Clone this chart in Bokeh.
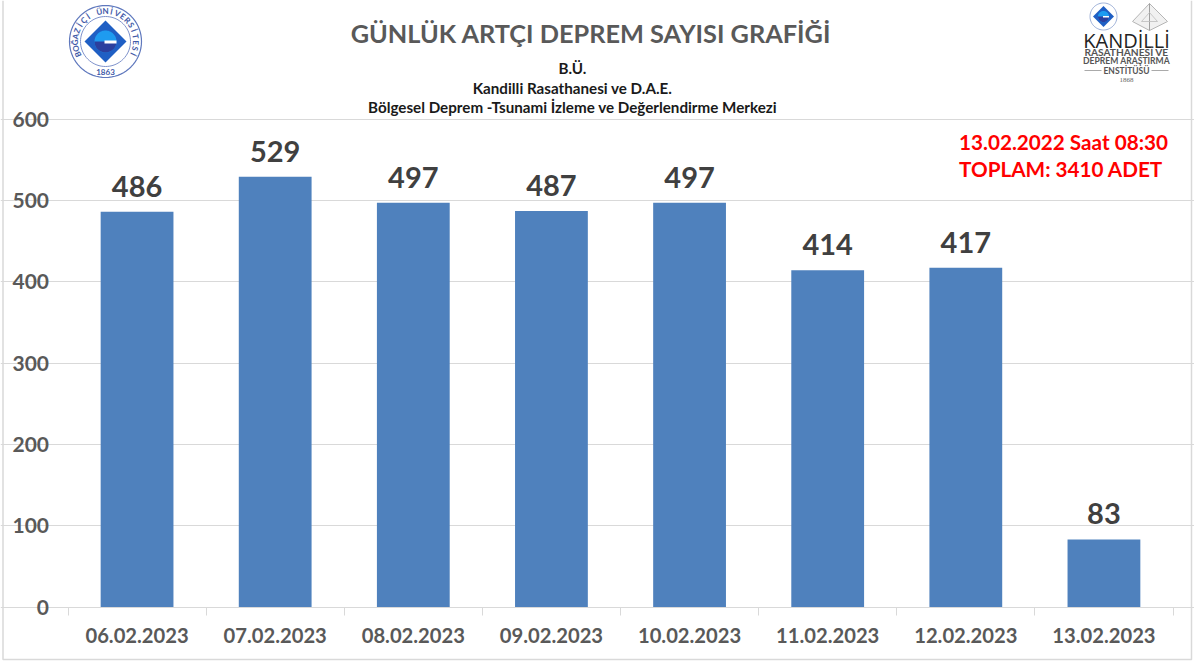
import numpy as np
from bokeh.plotting import figure
from bokeh.models import FixedTicker, Range1d, ColumnDataSource
from bokeh.core.properties import value
from bokeh.embed import file_html
from bokeh.resources import INLINE

dates = ["06.02.2023", "07.02.2023", "08.02.2023", "09.02.2023",
         "10.02.2023", "11.02.2023", "12.02.2023", "13.02.2023"]
counts = [486, 529, 497, 487, 497, 414, 417, 83]
y_ticks = [0, 100, 200, 300, 400, 500, 600]
title = "GÜNLÜK ARTÇI DEPREM SAYISI GRAFİĞİ"
subtitle = ["B.Ü.", "Kandilli Rasathanesi ve D.A.E.",
            "Bölgesel Deprem -Tsunami İzleme ve Değerlendirme Merkezi"]
note = ["13.02.2022 Saat 08:30", "TOPLAM:  3410 ADET"]

W, H = 1194, 664
PL, PR, PT, PB = 67.5, 1172.5, 118.5, 606.5   # plot area in page pixels
FONT = "Lato"
n = len(dates)
ymax = y_ticks[-1]
centers = np.arange(n) + 0.5
sx = (PR - PL) / n
sy = (PB - PT) / ymax

p = figure(width=W, height=H, output_backend="svg", toolbar_location=None,
           x_range=Range1d(-PL / sx, (W - PL) / sx),
           y_range=Range1d((PB - H) / sy, PB / sy),
           min_border=0, outline_line_color=None,
           background_fill_color="white", border_fill_color="white")
# second coordinate system for the page furniture: page pixels, y downward
p.extra_x_ranges["page"] = Range1d(0, W)
p.extra_y_ranges["page"] = Range1d(H, 0)

p.xgrid.visible = False
p.ygrid.ticker = FixedTicker(ticks=y_ticks)
p.ygrid.grid_line_color = "#d9d9d9"
p.ygrid.grid_line_width = 1
p.ygrid.bounds = (0, n)

ax = p.xaxis[0]
ax.fixed_location = 0
ax.bounds = (0, n)
ax.ticker = FixedTicker(ticks=list(centers), minor_ticks=list(range(n + 1)))
ax.major_label_overrides = {float(c): d for c, d in zip(centers, dates)}
ax.major_tick_line_color = None
ax.minor_tick_in = 0
ax.minor_tick_out = 8
ax.minor_tick_line_color = "#d9d9d9"
ax.axis_line_color = "#d9d9d9"
ax.major_label_standoff = 13
ax.major_label_text_font = FONT
ax.major_label_text_font_style = "bold"
ax.major_label_text_font_size = "20.2px"
ax.major_label_text_color = "#595959"

ay = p.yaxis[0]
ay.fixed_location = 0
ay.bounds = (0, ymax)
ay.ticker = FixedTicker(ticks=y_ticks)
ay.axis_line_color = None
ay.major_tick_line_color = None
ay.minor_tick_line_color = None
ay.major_label_standoff = 13
ay.major_label_text_font = FONT
ay.major_label_text_font_style = "bold"
ay.major_label_text_font_size = "21px"
ay.major_label_text_color = "#595959"

src = ColumnDataSource(dict(x=centers, top=counts, label=[str(c) for c in counts]))
p.vbar(x="x", top="top", bottom=0, width=0.527, source=src,
       fill_color="#4f81bd", line_color=None)
p.text(x="x", y="top", text="label", source=src, text_align="center",
       text_baseline="bottom", y_offset=-15, text_font=value(FONT),
       text_font_style="bold", text_font_size="29px", text_color="#404040")

PAGE = dict(x_range_name="page", y_range_name="page")


def lab(x, y, t, size, color="#000000", style="bold", font=FONT, angle=0.0):
    p.text(x=[x], y=[y], text=[t], angle=[angle], text_align="center", text_baseline="middle",
           text_font=value(font), text_font_size=f"{size}px", text_font_style=style,
           text_color=color, **PAGE)


def poly(xs, ys, fill, line=None, lw=1.0):
    p.patch(list(xs), list(ys), fill_color=fill, line_color=line, line_width=lw, **PAGE)


def stroke(xs, ys, color, lw=1.0):
    p.line(list(xs), list(ys), line_color=color, line_width=lw, **PAGE)


def circle(cx, cy, r, fill, line=None, lw=1.0):
    t = np.linspace(0, 2 * np.pi, 73)
    poly(cx + r * np.cos(t), cy + r * np.sin(t), fill, line, lw)


def seal(cx, cy, s=1.0):
    d = 21 * s
    poly([cx, cx + d, cx, cx - d], [cy - d, cy, cy + d, cy], "#1f5fc4")
    circle(cx, cy, 11 * s, "#1e9bf0")
    t = np.linspace(0, np.pi, 24)
    poly(cx + 11 * s * np.cos(t), cy + 11 * s * np.sin(t), "#2b3f9e")
    poly([cx - 1 * s, cx + 11 * s, cx + 11 * s, cx - 1 * s],
         [cy - 1 * s, cy - 1 * s, cy + 2 * s, cy + 2 * s], "#ffffff")


# page frame
stroke([2.5, 2.5, 1191, 1191], [0, 659, 659, 0], "#d9d9d9", 1.5)

# Boğaziçi University seal
cx, cy = 105, 41
circle(cx, cy, 36, "#ffffff", "#5f78bd", 1.2)
circle(cx, cy, 25, "#ffffff", "#7f93cc", 1.0)
seal(cx, cy)
ring = "BOĞAZİÇİ ÜNİVERSİTESİ"
angs = np.linspace(np.radians(205), np.radians(-25), len(ring))
for ch, a in zip(ring, angs):
    lab(cx + 30.5 * np.cos(a), cy - 30.5 * np.sin(a), ch, 8, "#3f5aa8", angle=a - np.pi / 2)
lab(cx, cy + 30, "1863", 8, "#3f5aa8")

# Kandilli logo
circle(1103, 16, 13.5, "#ffffff", "#9db0d8", 1.0)
seal(1103, 16, 0.5)
poly([1149, 1167, 1149, 1132], [3, 21, 30, 21], "#f1f1f1", "#b5b5b5", 1.0)
stroke([1149, 1149], [3, 30], "#a0a0a0", 1.0)
stroke([1141, 1157, 1149, 1141], [21, 21, 12, 21], "#bdbdbd", 0.8)
lab(1126, 40, "KANDİLLİ", 20, "#222222", font="Open Sans", style="normal")
lab(1126, 51, "RASATHANESİ VE", 10.2, "#555555")
lab(1126, 60, "DEPREM ARAŞTIRMA", 8.6, "#555555")
lab(1126, 70, "ENSTİTÜSÜ", 8.5, "#555555")
lab(1126, 79, "1868", 7, "#666666", font="Liberation Serif", style="normal")
stroke([1084, 1101], [70, 70], "#aaaaaa", 1.0)
stroke([1151, 1168], [70, 70], "#aaaaaa", 1.0)

# headings
lab(590.5, 32, title, 25.3, "#595959")
for y, t in zip([67, 87, 106.5], subtitle):
    lab(572, y, t, 15.2, "#1a1a1a")
for y, t in zip([141, 168], note):
    lab(1063, y, t, 20.7, "#ff0000")

open("out.html", "w").write(file_html(p, INLINE))
